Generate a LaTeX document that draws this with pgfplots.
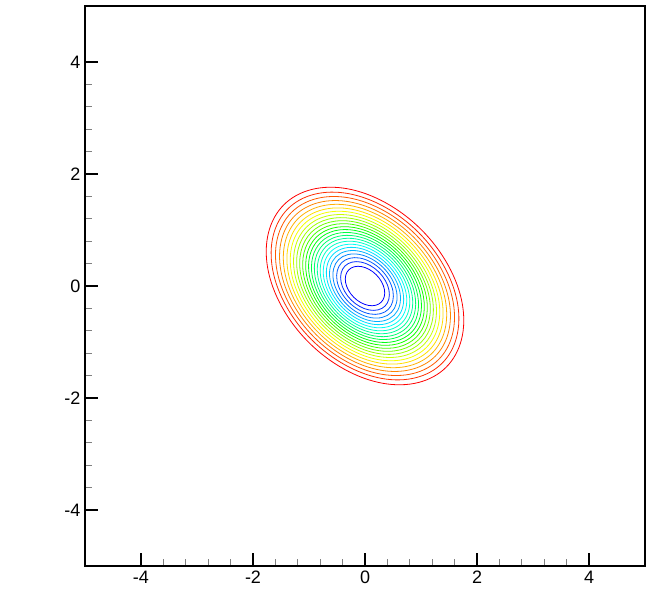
\documentclass[border=0pt]{standalone}
\usepackage{pgfplots}
\pgfplotsset{compat=1.18}
\usepackage{fontspec}
\setmainfont{Liberation Sans}
\pgfplotsset{cl/.style={line width=0.6pt, smooth cycle, tension=0.67, mark=none}}
\begin{document}
\begin{tikzpicture}
\useasboundingbox (-63.75pt,-18pt) rectangle (422.25pt,424.5pt);
\begin{axis}[
  at={(0pt,0pt)}, anchor=south west,
  scale only axis, width=420pt, height=420pt,
  xmin=-5, xmax=5, ymin=-5, ymax=5,
  xtick={-4,-2,0,2,4}, ytick={-4,-2,0,2,4},
  minor tick num=4,
  tick pos=left,
  tick align=inside,
  major tick length=9.5pt, minor tick length=5.5pt,
  major tick style={line width=1.5pt, black},
  minor tick style={line width=0.6pt, gray},
  axis line style={line width=1.5pt},
  /pgf/number format/assume math mode=true,
  ticklabel style={font=\fontsize{13.5}{16}\selectfont},
]
\addplot[cl, draw={rgb,255:red,255;green,0;blue,0}] coordinates {(1.0060,1.0060) (1.7365,-0.3137) (1.4497,-1.4497) (0.3137,-1.7365) (-1.0060,-1.0060) (-1.7365,0.3137) (-1.4497,1.4497) (-0.3137,1.7365)};
\addplot[cl, draw={rgb,255:red,255;green,44;blue,0}] coordinates {(0.9561,0.9561) (1.6503,-0.2982) (1.3778,-1.3778) (0.2982,-1.6503) (-0.9561,-0.9561) (-1.6503,0.2982) (-1.3778,1.3778) (-0.2982,1.6503)};
\addplot[cl, draw={rgb,255:red,255;green,89;blue,0}] coordinates {(0.9117,0.9117) (1.5736,-0.2843) (1.3137,-1.3137) (0.2843,-1.5736) (-0.9117,-0.9117) (-1.5736,0.2843) (-1.3137,1.3137) (-0.2843,1.5736)};
\addplot[cl, draw={rgb,255:red,255;green,133;blue,0}] coordinates {(0.8703,0.8703) (1.5022,-0.2714) (1.2541,-1.2541) (0.2714,-1.5022) (-0.8703,-0.8703) (-1.5022,0.2714) (-1.2541,1.2541) (-0.2714,1.5022)};
\addplot[cl, draw={rgb,255:red,255;green,177;blue,0}] coordinates {(0.8320,0.8320) (1.4360,-0.2595) (1.1989,-1.1989) (0.2595,-1.4360) (-0.8320,-0.8320) (-1.4360,0.2595) (-1.1989,1.1989) (-0.2595,1.4360)};
\addplot[cl, draw={rgb,255:red,255;green,222;blue,0}] coordinates {(0.7954,0.7954) (1.3730,-0.2481) (1.1462,-1.1462) (0.2481,-1.3730) (-0.7954,-0.7954) (-1.3730,0.2481) (-1.1462,1.1462) (-0.2481,1.3730)};
\addplot[cl, draw={rgb,255:red,244;green,255;blue,0}] coordinates {(0.7614,0.7614) (1.3142,-0.2374) (1.0971,-1.0971) (0.2374,-1.3142) (-0.7614,-0.7614) (-1.3142,0.2374) (-1.0971,1.0971) (-0.2374,1.3142)};
\addplot[cl, draw={rgb,255:red,200;green,255;blue,0}] coordinates {(0.7279,0.7279) (1.2564,-0.2270) (1.0489,-1.0489) (0.2270,-1.2564) (-0.7279,-0.7279) (-1.2564,0.2270) (-1.0489,1.0489) (-0.2270,1.2564)};
\addplot[cl, draw={rgb,255:red,155;green,255;blue,0}] coordinates {(0.6962,0.6962) (1.2018,-0.2171) (1.0033,-1.0033) (0.2171,-1.2018) (-0.6962,-0.6962) (-1.2018,0.2171) (-1.0033,1.0033) (-0.2171,1.2018)};
\addplot[cl, draw={rgb,255:red,111;green,255;blue,0}] coordinates {(0.6652,0.6652) (1.1482,-0.2075) (0.9586,-0.9586) (0.2075,-1.1482) (-0.6652,-0.6652) (-1.1482,0.2075) (-0.9586,0.9586) (-0.2075,1.1482)};
\addplot[cl, draw={rgb,255:red,67;green,255;blue,0}] coordinates {(0.6348,0.6348) (1.0957,-0.1980) (0.9147,-0.9147) (0.1980,-1.0957) (-0.6348,-0.6348) (-1.0957,0.1980) (-0.9147,0.9147) (-0.1980,1.0957)};
\addplot[cl, draw={rgb,255:red,22;green,255;blue,0}] coordinates {(0.6043,0.6043) (1.0431,-0.1885) (0.8709,-0.8709) (0.1885,-1.0431) (-0.6043,-0.6043) (-1.0431,0.1885) (-0.8709,0.8709) (-0.1885,1.0431)};
\addplot[cl, draw={rgb,255:red,0;green,255;blue,22}] coordinates {(0.5751,0.5751) (0.9927,-0.1794) (0.8288,-0.8288) (0.1794,-0.9927) (-0.5751,-0.5751) (-0.9927,0.1794) (-0.8288,0.8288) (-0.1794,0.9927)};
\addplot[cl, draw={rgb,255:red,0;green,255;blue,67}] coordinates {(0.5453,0.5453) (0.9412,-0.1701) (0.7858,-0.7858) (0.1701,-0.9412) (-0.5453,-0.5453) (-0.9412,0.1701) (-0.7858,0.7858) (-0.1701,0.9412)};
\addplot[cl, draw={rgb,255:red,0;green,255;blue,111}] coordinates {(0.5161,0.5161) (0.8908,-0.1610) (0.7437,-0.7437) (0.1610,-0.8908) (-0.5161,-0.5161) (-0.8908,0.1610) (-0.7437,0.7437) (-0.1610,0.8908)};
\addplot[cl, draw={rgb,255:red,0;green,255;blue,155}] coordinates {(0.4863,0.4863) (0.8393,-0.1517) (0.7007,-0.7007) (0.1517,-0.8393) (-0.4863,-0.4863) (-0.8393,0.1517) (-0.7007,0.7007) (-0.1517,0.8393)};
\addplot[cl, draw={rgb,255:red,0;green,255;blue,200}] coordinates {(0.4565,0.4565) (0.7879,-0.1424) (0.6578,-0.6578) (0.1424,-0.7879) (-0.4565,-0.4565) (-0.7879,0.1424) (-0.6578,0.6578) (-0.1424,0.7879)};
\addplot[cl, draw={rgb,255:red,0;green,255;blue,244}] coordinates {(0.4254,0.4254) (0.7343,-0.1327) (0.6130,-0.6130) (0.1327,-0.7343) (-0.4254,-0.4254) (-0.7343,0.1327) (-0.6130,0.6130) (-0.1327,0.7343)};
\addplot[cl, draw={rgb,255:red,0;green,222;blue,255}] coordinates {(0.3938,0.3938) (0.6797,-0.1228) (0.5674,-0.5674) (0.1228,-0.6797) (-0.3938,-0.3938) (-0.6797,0.1228) (-0.5674,0.5674) (-0.1228,0.6797)};
\addplot[cl, draw={rgb,255:red,0;green,177;blue,255}] coordinates {(0.3615,0.3615) (0.6240,-0.1127) (0.5209,-0.5209) (0.1127,-0.6240) (-0.3615,-0.3615) (-0.6240,0.1127) (-0.5209,0.5209) (-0.1127,0.6240)};
\addplot[cl, draw={rgb,255:red,0;green,133;blue,255}] coordinates {(0.3268,0.3268) (0.5641,-0.1019) (0.4709,-0.4709) (0.1019,-0.5641) (-0.3268,-0.3268) (-0.5641,0.1019) (-0.4709,0.4709) (-0.1019,0.5641)};
\addplot[cl, draw={rgb,255:red,0;green,89;blue,255}] coordinates {(0.2891,0.2891) (0.4990,-0.0902) (0.4166,-0.4166) (0.0902,-0.4990) (-0.2891,-0.2891) (-0.4990,0.0902) (-0.4166,0.4166) (-0.0902,0.4990)};
\addplot[cl, draw={rgb,255:red,0;green,44;blue,255}] coordinates {(0.2483,0.2483) (0.4286,-0.0774) (0.3578,-0.3578) (0.0774,-0.4286) (-0.2483,-0.2483) (-0.4286,0.0774) (-0.3578,0.3578) (-0.0774,0.4286)};
\addplot[cl, draw={rgb,255:red,0;green,0;blue,255}] coordinates {(0.2008,0.2008) (0.3467,-0.0626) (0.2894,-0.2894) (0.0626,-0.3467) (-0.2008,-0.2008) (-0.3467,0.0626) (-0.2894,0.2894) (-0.0626,0.3467)};
\end{axis}
\end{tikzpicture}
\end{document}
